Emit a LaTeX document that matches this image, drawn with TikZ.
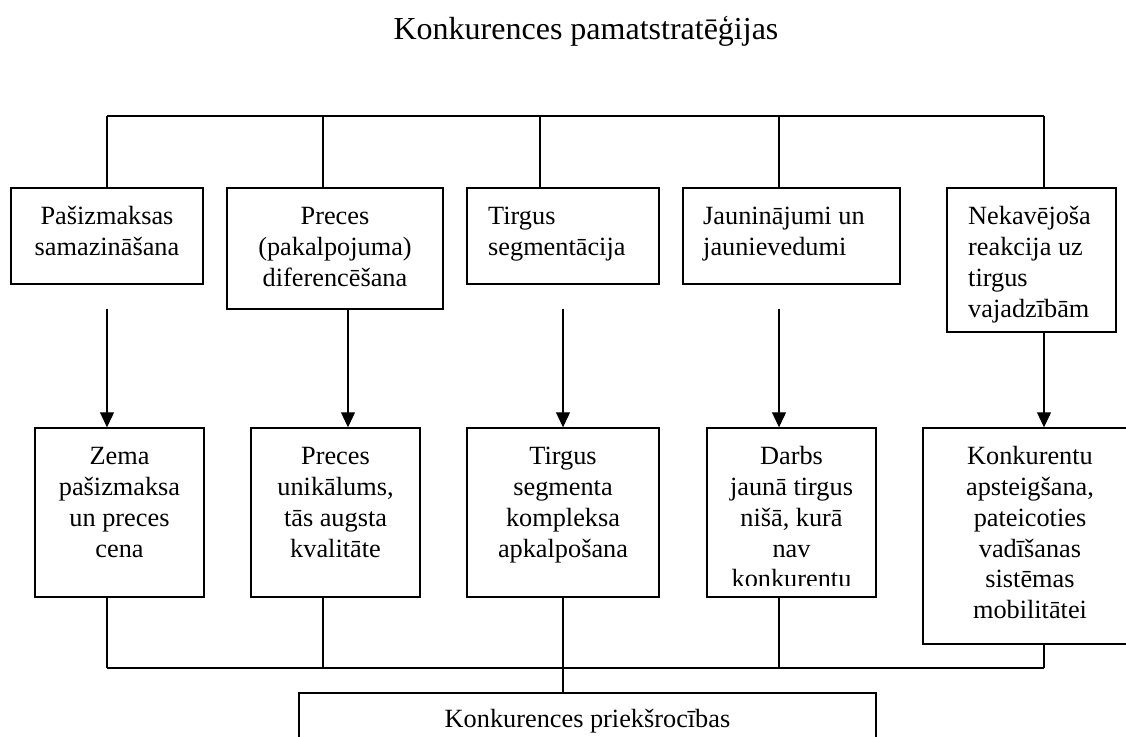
\documentclass[tikz,border=0pt]{standalone}
\usepackage{fontspec}
\setmainfont{Liberation Serif}
\usetikzlibrary{arrows.meta}
\newcommand\bodyfont{\fontsize{26.3}{30.8}\selectfont}
\newcommand\headfont{\fontsize{32}{38}\selectfont}

\begin{document}
\begin{tikzpicture}[x=1pt,y=-1pt,
  box/.style={draw, line width=1.4pt, inner sep=0pt, rectangle},
  lbl/.style={inner sep=0pt, font=\bodyfont},
  lblc/.style={lbl, anchor=north, align=center},
  lbll/.style={lbl, anchor=north west, align=left},
  wire/.style={line width=1.1pt},
  arr/.style={wire, -{Triangle[width=14pt,length=15pt]}},
  trunk/.style={line width=2.2pt}]
\clip (0,0) rectangle (1126,736);

% title
\node[font=\headfont, anchor=base, inner sep=0pt] (title) at (586,39) {Konkurences pamatstratēģijas};

% strategy boxes
\node[box, minimum width=192pt, minimum height=96pt]  (t1) at (107,236) {};
\node[box, minimum width=216pt, minimum height=121pt] (t2) at (335,248.5) {};
\node[box, minimum width=192pt, minimum height=96pt]  (t3) at (563,236) {};
\node[box, minimum width=217pt, minimum height=96pt]  (t4) at (791.5,236) {};
\node[box, minimum width=169pt, minimum height=144pt] (t5) at (1031.5,260) {};

% a strut on the first line puts its baseline 0.7\baselineskip below the anchor
\node[lblc] (t1txt) at (107,202.9) {\strut Pašizmaksas\\samazināšana};
\node[lblc] (t2txt) at (335,202.9) {\strut Preces\\(pakalpojuma)\\diferencēšana};
\node[lbll] (t3txt) at (488,202.9) {\strut Tirgus\\segmentācija};
\node[lbll] (t4txt) at (703,202.9) {\strut Jauninājumi un\\jaunievedumi};
\node[lbll] (t5txt) at (968,202.9) {\strut Nekavējoša\\reakcija uz\\tirgus\\vajadzībām};

% result boxes
\node[box, minimum width=169pt, minimum height=169pt] (b1) at (119.5,512.5) {};
\node[box, minimum width=169pt, minimum height=169pt] (b2) at (335.5,512.5) {};
\node[box, minimum width=192pt, minimum height=169pt] (b3) at (563,512.5) {};
\node[box, minimum width=169pt, minimum height=169pt] (b4) at (791.5,512.5) {};
\node[box, minimum width=214pt, minimum height=216pt] (b5) at (1030,536) {};

\node[lblc] (b1txt) at (119.5,442.9) {\strut Zema\\pašizmaksa\\un preces\\cena};
\node[lblc] (b2txt) at (335.5,442.9) {\strut Preces\\unikālums,\\tās augsta\\kvalitāte};
\node[lblc] (b3txt) at (563,442.9) {\strut Tirgus\\segmenta\\kompleksa\\apkalpošana};
% the last line of this box runs past its text area and is cut off
\begin{scope}
  \clip (707,428) rectangle (876,585.5);
  \node[lblc] (b4txt) at (791.5,442.9) {\strut Darbs\\jaunā tirgus\\nišā, kurā\\nav\\konkurentu};
\end{scope}
\node[lblc] (b5txt) at (1030,442.9) {\strut Konkurentu\\apsteigšana,\\pateicoties\\vadīšanas\\sistēmas\\mobilitātei};

% outcome box
\node[box, minimum width=577pt, minimum height=87pt] (fin) at (587.5,736.5) {};
\node[font=\bodyfont, anchor=base, inner sep=0pt] (fintxt) at (587.5,727) {Konkurences priekšrocības};

% upper distribution bus
\coordinate (u1) at (107,116);
\coordinate (u2) at (323,116);
\coordinate (u3) at (540,116);
\coordinate (u4) at (779,116);
\coordinate (u5) at (1044,116);
\draw[wire] (u1) -- (u5);
\foreach \i in {1,...,5} \draw[wire] (u\i) -- (u\i |- t\i.north);

% arrows from strategies to results
\coordinate (a1) at (107,309);
\coordinate (a2) at (348,309);
\coordinate (a3) at (563,309);
\coordinate (a4) at (779,309);
\coordinate (a5) at (1044,332);
\foreach \i in {1,...,5} \draw[arr] (a\i) -- (a\i |- b\i.north);

% lower collecting bus
\coordinate (l1) at (107,668);
\coordinate (l2) at (323,668);
\coordinate (l3) at (563,668);
\coordinate (l4) at (779,668);
\coordinate (l5) at (1044,668);
\foreach \i in {1,...,5} \draw[wire] (l\i |- b\i.south) -- (l\i);
\draw[wire] (l1) -- (l5);

% trunk into the outcome box
\coordinate (k) at (563,645);
\draw[trunk] (k) -- (k |- fin.north);
\end{tikzpicture}
\end{document}
